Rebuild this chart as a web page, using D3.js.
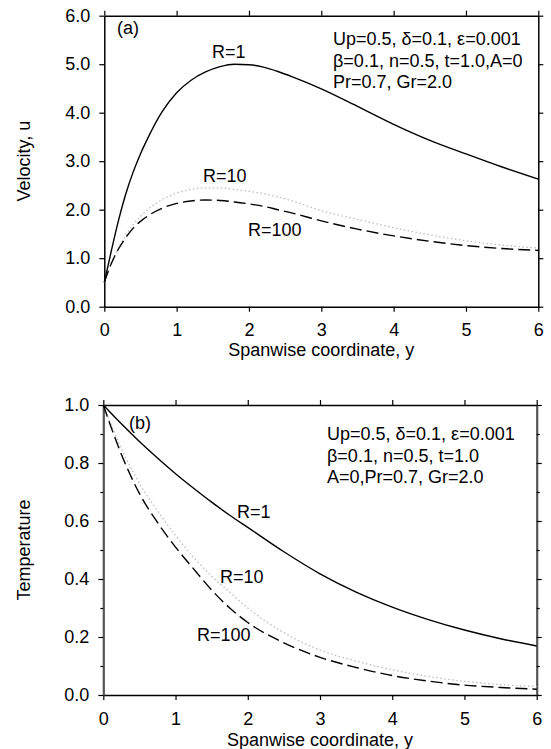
<!DOCTYPE html>
<html>
<head>
<meta charset="utf-8">
<script src="https://cdn.jsdelivr.net/npm/d3@7"></script>
<style>
  html, body { margin: 0; padding: 0; background: #fff; }
  svg { display: block; font-family: "Liberation Sans", Arial, sans-serif; }
</style>
</head>
<body>
<svg id="chart" width="551" height="749"></svg>
<script>
// ---------- data ----------
const xTickVals = [0, 1, 2, 3, 4, 5, 6];
const velTickVals = [0, 1, 2, 3, 4, 5, 6];
const tempTickVals = [0, 0.2, 0.4, 0.6, 0.8, 1.0];
const tempMinorVals = [0.1, 0.3, 0.5, 0.7, 0.9];

// (a) velocity
const yVel = [0, 0.1, 0.2, 0.3, 0.4, 0.5, 0.6, 0.8, 1.0, 1.2, 1.4, 1.6, 1.8, 2.0, 2.2, 2.4, 2.6, 2.8, 3.0, 3.5, 4.0, 4.5, 5.0, 5.5, 6.0];
const uR1   = [0.5, 1.17, 1.8, 2.34, 2.78, 3.15, 3.47, 4.02, 4.41, 4.67, 4.84, 4.95, 5.0, 4.99, 4.94, 4.85, 4.74, 4.62, 4.49, 4.13, 3.76, 3.43, 3.15, 2.88, 2.63];
const uR10  = [0.5, 0.9, 1.22, 1.48, 1.69, 1.86, 2.0, 2.21, 2.34, 2.42, 2.45, 2.45, 2.42, 2.38, 2.33, 2.26, 2.18, 2.08, 1.98, 1.8, 1.63, 1.48, 1.36, 1.27, 1.21];
const uR100 = [0.5, 0.9, 1.2, 1.43, 1.62, 1.76, 1.87, 2.03, 2.13, 2.18, 2.2, 2.19, 2.16, 2.12, 2.07, 2.0, 1.93, 1.85, 1.77, 1.6, 1.46, 1.35, 1.26, 1.2, 1.16];

// (b) temperature
const yTemp = [0, 0.25, 0.5, 0.75, 1.0, 1.25, 1.5, 1.75, 2.0, 2.5, 3.0, 3.5, 4.0, 4.5, 5.0, 5.5, 6.0];
const tR1   = [1.0, 0.935, 0.874, 0.817, 0.763, 0.713, 0.665, 0.62, 0.578, 0.494, 0.418, 0.355, 0.303, 0.26, 0.224, 0.194, 0.169];
const tR10  = [1.0, 0.85, 0.73, 0.635, 0.55, 0.475, 0.41, 0.355, 0.30, 0.215, 0.155, 0.117, 0.087, 0.064, 0.047, 0.036, 0.029];
const tR100 = [1.0, 0.83, 0.695, 0.595, 0.51, 0.435, 0.362, 0.30, 0.25, 0.18, 0.13, 0.095, 0.067, 0.048, 0.034, 0.026, 0.02];

const seriesNames = ["R=1", "R=10", "R=100"];
const infoA = ["Up=0.5, \u03B4=0.1, \u03B5=0.001", "\u03B2=0.1, n=0.5, t=1.0,A=0", "Pr=0.7, Gr=2.0"];
const infoB = ["Up=0.5, \u03B4=0.1, \u03B5=0.001", "\u03B2=0.1, n=0.5, t=1.0", "A=0,Pr=0.7, Gr=2.0"];

// ---------- drawing ----------
const svg = d3.select("#chart");
const TICK_FS = 18, LABEL_FS = 18;

const styles = [
  { stroke: "#000", width: 1.4, dash: null },
  { stroke: "#bdbdbd", width: 1.3, dash: "1.5,2.5" },
  { stroke: "#000", width: 1.4, dash: "12,5" }
];

function panel(opts) {
  const g = svg.append("g");
  const x = d3.scaleLinear().domain([0, 6]).range(opts.xRange);
  const y = d3.scaleLinear().domain(opts.yDomain).range(opts.yRange);

  // axes
  const bottom = g.append("g").attr("transform", `translate(0,${opts.yRange[0]})`)
    .call(d3.axisBottom(x).tickValues(xTickVals).tickSize(5).tickSizeOuter(0).tickFormat(d3.format("d")));
  bottom.selectAll("text").attr("dy", null).attr("y", opts.xTickBaseline - opts.yRange[0]);
  g.append("g").attr("transform", `translate(0,${opts.yRange[1]})`)
    .call(d3.axisTop(x).tickValues(xTickVals).tickSize(5).tickSizeOuter(0).tickFormat(""));

  const left = g.append("g").attr("transform", `translate(${opts.xRange[0]},0)`)
    .call(d3.axisLeft(y).tickValues(opts.yTicks).tickSize(5).tickPadding(9).tickSizeOuter(0).tickFormat(d3.format(".1f")));
  const right = g.append("g").attr("transform", `translate(${opts.xRange[1]},0)`)
    .call(d3.axisRight(y).tickValues(opts.yTicks).tickSize(5).tickSizeOuter(0).tickFormat(""));

  if (opts.yMinor) {
    g.append("g").attr("transform", `translate(${opts.xRange[0]},0)`)
      .call(d3.axisLeft(y).tickValues(opts.yMinor).tickSize(3).tickSizeOuter(0).tickFormat(""))
      .select(".domain").remove();
    g.append("g").attr("transform", `translate(${opts.xRange[1]},0)`)
      .call(d3.axisRight(y).tickValues(opts.yMinor).tickSize(3).tickSizeOuter(0).tickFormat(""))
      .select(".domain").remove();
  }

  g.selectAll(".tick text").attr("font-size", TICK_FS).attr("fill", "#000")
    .attr("font-family", '"Liberation Sans", Arial, sans-serif');
  g.selectAll(".domain").attr("stroke", "#000").attr("stroke-width", 1.5);
  g.selectAll(".tick line").attr("stroke", "#000").attr("stroke-width", 1.2);
  if (opts.sideColor) {
    left.select(".domain").attr("stroke", opts.sideColor).attr("stroke-width", 2.2);
    right.select(".domain").attr("stroke", opts.sideColor).attr("stroke-width", 2.2);
  }

  // lines
  const line = d3.line().x((d) => x(d[0])).y((d) => y(d[1])).curve(d3.curveMonotoneX);
  opts.series.forEach((vals, i) => {
    const pts = opts.xs.map((xv, j) => [xv, vals[j]]);
    const st = styles[i];
    g.append("path").datum(pts).attr("d", line)
      .attr("fill", "none").attr("stroke", st.stroke).attr("stroke-width", st.width)
      .attr("stroke-dasharray", st.dash);
  });

  // axis titles
  g.append("text").attr("x", (opts.xRange[0] + opts.xRange[1]) / 2).attr("y", opts.xTitleY)
    .attr("text-anchor", "middle").attr("font-size", LABEL_FS).text("Spanwise coordinate, y");
  g.append("text")
    .attr("transform", `translate(${opts.yTitleX},${(opts.yRange[0] + opts.yRange[1]) / 2}) rotate(-90)`)
    .attr("text-anchor", "middle").attr("font-size", LABEL_FS).text(opts.yTitle);

  // panel letter
  g.append("text").attr("x", opts.letterPos[0]).attr("y", opts.letterPos[1])
    .attr("font-size", LABEL_FS).text(opts.letter);

  // series labels
  opts.labelPos.forEach((p, i) => {
    g.append("text").attr("x", p[0]).attr("y", p[1]).attr("font-size", LABEL_FS).text(seriesNames[i]);
  });

  // info block
  opts.info.forEach((t, i) => {
    g.append("text").attr("x", opts.infoPos[0]).attr("y", opts.infoPos[1] + i * 21.5)
      .attr("font-size", LABEL_FS).text(t);
  });
}

panel({
  xRange: [104.3, 538.3], yRange: [306.7, 15.7], yDomain: [0, 6],
  yTicks: velTickVals, yMinor: null, sideColor: null,
  xs: yVel, series: [uR1, uR10, uR100],
  xTickBaseline: 336, xTitleY: 356, yTitleX: 30, yTitle: "Velocity, u",
  letter: "(a)", letterPos: [117, 34],
  labelPos: [[212, 58], [203, 182], [248, 236]],
  info: infoA, infoPos: [333, 45]
});

panel({
  xRange: [103.3, 536.7], yRange: [695, 405], yDomain: [0, 1],
  yTicks: tempTickVals, yMinor: tempMinorVals, sideColor: "#555",
  xs: yTemp, series: [tR1, tR10, tR100],
  xTickBaseline: 725, xTitleY: 746, yTitleX: 30, yTitle: "Temperature",
  letter: "(b)", letterPos: [129, 429],
  labelPos: [[237, 518], [220, 583], [197, 641]],
  info: infoB, infoPos: [327, 440]
});
</script>
</body>
</html>
